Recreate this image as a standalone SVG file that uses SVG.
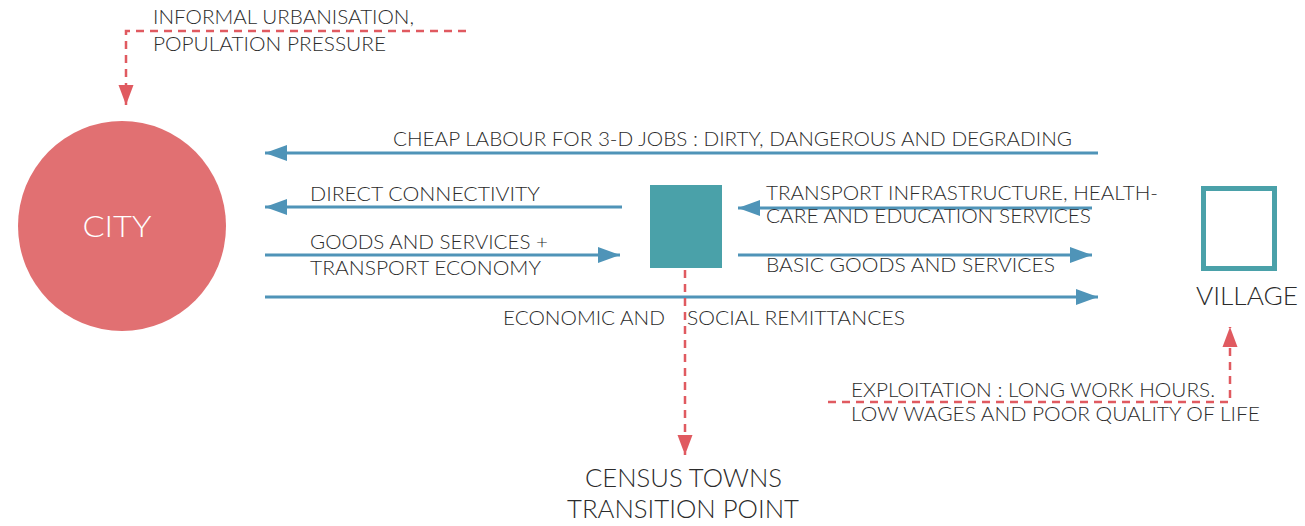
<svg xmlns="http://www.w3.org/2000/svg" width="1305" height="526" viewBox="0 0 1305 526">
<style>
.t{font-family:Lato,"Liberation Sans",sans-serif;font-weight:300;fill:#2b2b2b;font-size:20px}
.big{font-size:26px}
.flow{stroke:#4f94b8;stroke-width:3;fill:none}
.dash{stroke:#e05a60;stroke-width:2.5;fill:none;stroke-dasharray:8 6}
</style>
<defs>
<marker id="ab" markerWidth="22" markerHeight="16" refX="22" refY="8" orient="auto" markerUnits="userSpaceOnUse"><path d="M0,0 L22,8 L0,16 Z" fill="#4f94b8"/></marker>
<marker id="ar" markerWidth="20" markerHeight="16" refX="20" refY="8" orient="auto" markerUnits="userSpaceOnUse"><path d="M0,0.5 L20,8 L0,15.5 Z" fill="#e05a60"/></marker>
</defs>
<g id="city"><ellipse cx="122" cy="226" rx="104" ry="105" fill="#e17072"/><text class="t" x="117" y="237" text-anchor="middle" style="font-size:30px;fill:#fff" textLength="69" lengthAdjust="spacingAndGlyphs">CITY</text></g>
<g id="census-town"><rect x="650" y="185" width="72" height="83" fill="#4aa1a9"/></g>
<g id="village"><rect x="1203.5" y="188.5" width="71" height="80" fill="none" stroke="#4aa1a9" stroke-width="5"/><text class="t big" x="1196" y="305" textLength="102" lengthAdjust="spacingAndGlyphs">VILLAGE</text></g>
<g id="census-label"><text class="t big" x="585" y="487" textLength="197" lengthAdjust="spacingAndGlyphs">CENSUS TOWNS</text><text class="t big" x="567" y="518" textLength="232" lengthAdjust="spacingAndGlyphs">TRANSITION POINT</text></g>
<g id="connectors">
<line class="flow" x1="1098" y1="153" x2="265" y2="153" marker-end="url(#ab)"/>
<line class="flow" x1="622" y1="207" x2="265" y2="207" marker-end="url(#ab)"/>
<line class="flow" x1="265" y1="255" x2="620" y2="255" marker-end="url(#ab)"/>
<line class="flow" x1="265" y1="297" x2="1098" y2="297" marker-end="url(#ab)"/>
<line class="flow" x1="1092" y1="208" x2="738" y2="208" marker-end="url(#ab)"/>
<line class="flow" x1="738" y1="255" x2="1092" y2="255" marker-end="url(#ab)"/>
<path class="dash" d="M466,31 H126 V105" marker-end="url(#ar)"/>
<path class="dash" d="M685,270 V455" marker-end="url(#ar)"/>
<path class="dash" d="M828,402 H1230 V327" marker-end="url(#ar)"/>
</g>
<g id="labels">
<text class="t" x="153" y="24" textLength="261" lengthAdjust="spacingAndGlyphs">INFORMAL URBANISATION,</text>
<text class="t" x="153" y="51" textLength="233" lengthAdjust="spacingAndGlyphs">POPULATION PRESSURE</text>
<text class="t" x="393" y="146" textLength="679" lengthAdjust="spacingAndGlyphs">CHEAP LABOUR FOR 3-D JOBS : DIRTY, DANGEROUS AND DEGRADING</text>
<text class="t" x="310" y="201" textLength="230" lengthAdjust="spacingAndGlyphs">DIRECT CONNECTIVITY</text>
<text class="t" x="310" y="249" textLength="238" lengthAdjust="spacingAndGlyphs">GOODS AND SERVICES +</text>
<text class="t" x="310" y="275" textLength="231" lengthAdjust="spacingAndGlyphs">TRANSPORT ECONOMY</text>
<text class="t" x="503" y="325" textLength="162" lengthAdjust="spacingAndGlyphs">ECONOMIC AND</text>
<text class="t" x="687" y="325" textLength="218" lengthAdjust="spacingAndGlyphs">SOCIAL REMITTANCES</text>
<text class="t" x="766" y="200" textLength="392" lengthAdjust="spacingAndGlyphs">TRANSPORT INFRASTRUCTURE, HEALTH-</text>
<text class="t" x="766" y="223" textLength="325" lengthAdjust="spacingAndGlyphs">CARE AND EDUCATION SERVICES</text>
<text class="t" x="766" y="272" textLength="289" lengthAdjust="spacingAndGlyphs">BASIC GOODS AND SERVICES</text>
<text class="t" x="851" y="397" textLength="364" lengthAdjust="spacingAndGlyphs">EXPLOITATION : LONG WORK HOURS.</text>
<text class="t" x="851" y="421" textLength="409" lengthAdjust="spacingAndGlyphs">LOW WAGES AND POOR QUALITY OF LIFE</text>
</g>
</svg>
